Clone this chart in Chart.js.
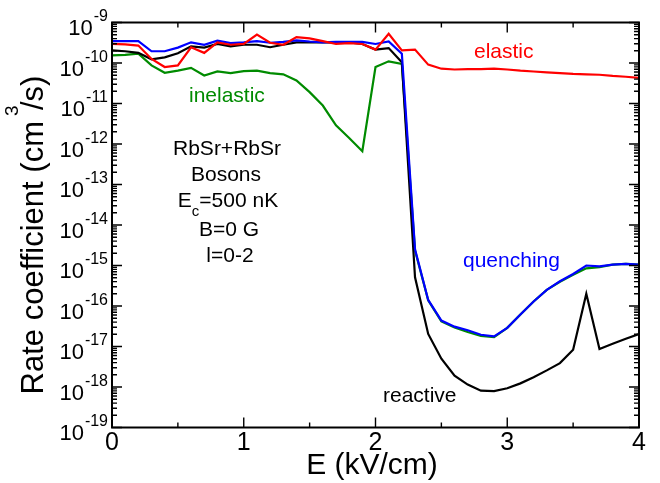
<!DOCTYPE html>
<html><head><meta charset="utf-8">
<script src="https://cdn.jsdelivr.net/npm/chart.js@4/dist/chart.umd.min.js"></script>
<style>html,body{margin:0;padding:0;background:#fff;overflow:hidden}canvas{display:block}</style>
</head><body>
<canvas id="c" width="660" height="483"></canvas>
<script>
// Electric field E (kV/cm)
const fieldE = [0.0,0.1,0.2,0.3,0.4,0.5,0.6,0.7,0.8,0.9,
                1.0,1.1,1.2,1.3,1.4,1.5,1.6,1.7,1.8,1.9,
                2.0,2.1,2.2,2.3,2.4,2.5,2.6,2.7,2.8,2.9,
                3.0,3.1,3.2,3.3,3.4,3.5,3.6,3.7,3.8,3.9,4.0];
// Rate coefficients (cm^3/s)
const elastic = [2.95e-10,2.88e-10,2.69e-10,1.26e-10,7.94e-11,8.71e-11,2.45e-10,1.78e-10,3.24e-10,2.82e-10,
                 2.95e-10,5.01e-10,3.16e-10,2.82e-10,4.37e-10,4.07e-10,3.47e-10,2.95e-10,3.09e-10,2.95e-10,
                 2.14e-10,5.25e-10,2.04e-10,2.14e-10,9.12e-11,7.24e-11,6.92e-11,7.08e-11,7.08e-11,7.24e-11,
                 6.92e-11,6.46e-11,6.17e-11,5.89e-11,5.62e-11,5.37e-11,5.25e-11,5.13e-11,4.79e-11,4.57e-11,4.27e-11];
const inelastic = [1.55e-10,1.58e-10,1.70e-10,8.71e-11,5.75e-11,6.46e-11,7.59e-11,4.90e-11,6.17e-11,5.62e-11,
                   6.31e-11,6.46e-11,5.62e-11,5.25e-11,3.72e-11,1.91e-11,8.91e-12,2.88e-12,1.41e-12,6.61e-13,
                   7.94e-11,1.10e-10,9.55e-11,2.34e-15,1.38e-16,4.17e-17,2.95e-17,2.29e-17,1.82e-17,1.70e-17,
                   2.88e-17,6.17e-17,1.29e-16,2.51e-16,3.98e-16,5.89e-16,8.51e-16,9.12e-16,1.05e-15,1.10e-15,1.05e-15];
const quenching = [3.47e-10,3.47e-10,3.47e-10,1.95e-10,1.95e-10,2.40e-10,3.24e-10,2.82e-10,3.55e-10,3.09e-10,
                   3.24e-10,3.47e-10,3.16e-10,3.31e-10,3.63e-10,3.39e-10,3.24e-10,3.31e-10,3.31e-10,3.31e-10,
                   2.95e-10,3.39e-10,1.70e-10,2.51e-15,1.41e-16,4.37e-17,3.09e-17,2.51e-17,1.95e-17,1.78e-17,
                   2.88e-17,6.17e-17,1.29e-16,2.51e-16,4.07e-16,6.17e-16,1.00e-15,9.55e-16,1.05e-15,1.10e-15,1.05e-15];
const reactive = [2.04e-10,1.95e-10,1.78e-10,1.23e-10,1.38e-10,1.74e-10,2.57e-10,2.40e-10,2.95e-10,2.57e-10,
                  2.82e-10,2.82e-10,2.45e-10,2.82e-10,3.24e-10,3.24e-10,3.24e-10,3.24e-10,3.24e-10,2.95e-10,
                  2.14e-10,2.34e-10,1.05e-10,5.13e-16,2.04e-17,5.01e-18,1.91e-18,1.15e-18,8.13e-19,7.94e-19,
                  9.33e-19,1.23e-18,1.74e-18,2.57e-18,3.89e-18,8.32e-18,2.00e-16,8.71e-18,1.17e-17,1.55e-17,2.04e-17];
// Axis ticks
const xTickLabels = [0,1,2,3,4];
const xMinorTicks = [0.5,1.5,2.5,3.5];
const yTickExponents = [-9,-10,-11,-12,-13,-14,-15,-16,-17,-18,-19];

const FONT = '"Liberation Sans", Arial, Helvetica, sans-serif';
const GREEN = '#008b00';

function pts(arr){ return fieldE.map((x,i)=>({x:x, y:arr[i]})); }

function textAt(ctx, s, x, y, size, color, align){
  ctx.font = size + 'px ' + FONT;
  ctx.fillStyle = color; ctx.textAlign = align || 'left'; ctx.textBaseline = 'alphabetic';
  ctx.fillText(s, x, y);
}

const deco = {
  id: 'deco',
  afterDraw(chart){
    const ctx = chart.ctx, xs = chart.scales.x, ys = chart.scales.y, a = chart.chartArea;
    ctx.save();
    // frame
    ctx.strokeStyle = '#000'; ctx.lineWidth = 2;
    ctx.strokeRect(a.left, a.top, a.right - a.left, a.bottom - a.top);
    // ticks (inward, all four sides)
    ctx.lineWidth = 1.4;
    ctx.beginPath();
    const xt = (v, len) => {
      const p = xs.getPixelForValue(v);
      ctx.moveTo(p, a.bottom); ctx.lineTo(p, a.bottom - len);
      ctx.moveTo(p, a.top); ctx.lineTo(p, a.top + len);
    };
    xTickLabels.forEach(v => xt(v, 10));
    xMinorTicks.forEach(v => xt(v, 5));
    const yt = (v, len) => {
      const p = ys.getPixelForValue(v);
      ctx.moveTo(a.left, p); ctx.lineTo(a.left + len, p);
      ctx.moveTo(a.right, p); ctx.lineTo(a.right - len, p);
    };
    yTickExponents.forEach(e => {
      yt(Math.pow(10, e), 10);
      if (e > -9) return;
      if (e < -9) {}
    });
    yTickExponents.forEach(e => {
      if (e === -9) return;
      for (let k = 2; k <= 9; k++) yt(k * Math.pow(10, e), 5);
    });
    ctx.stroke();

    // y tick labels 10^e
    yTickExponents.forEach(e => {
      const p = ys.getPixelForValue(Math.pow(10, e));
      const sup = String(e);
      ctx.font = '16px ' + FONT;
      const ws = ctx.measureText(sup).width;
      const supLeft = a.left - 4 - ws;
      textAt(ctx, sup, supLeft, p - 1.5, 16, '#000', 'left');
      textAt(ctx, '10', supLeft - 1, p + 12.5, 22, '#000', 'right');
    });
    // x tick labels
    xTickLabels.forEach(v => {
      textAt(ctx, String(v), xs.getPixelForValue(v), 450, 25, '#000', 'center');
    });
    // x title
    textAt(ctx, 'E (kV/cm)', 372, 474, 30, '#000', 'center');
    // y title with superscript
    ctx.save();
    ctx.translate(43, 235);
    ctx.rotate(-Math.PI / 2);
    ctx.font = '31px ' + FONT;
    const t1 = 'Rate coefficient (cm', t3 = '/s)';
    const w1 = ctx.measureText(t1).width, w3 = ctx.measureText(t3).width;
    const gap = 11, tot = w1 + gap + w3, x0 = -tot / 2;
    textAt(ctx, t1, x0, 0, 31, '#000', 'left');
    textAt(ctx, '3', x0 + w1 + 5, -25, 19, '#000', 'left');
    textAt(ctx, t3, x0 + w1 + gap, 0, 31, '#000', 'left');
    ctx.restore();

    // curve labels
    textAt(ctx, 'elastic', 474, 57.5, 21, '#ff0000', 'left');
    textAt(ctx, 'inelastic', 189, 102, 21, GREEN, 'left');
    textAt(ctx, 'quenching', 463, 267, 21, '#0000ff', 'left');
    textAt(ctx, 'reactive', 383, 402, 21, '#000', 'left');

    // info block
    textAt(ctx, 'RbSr+RbSr', 227, 155, 21, '#000', 'center');
    textAt(ctx, 'Bosons', 226, 180.5, 21, '#000', 'center');
    ctx.font = '21px ' + FONT;
    const wE = ctx.measureText('E').width, wR = ctx.measureText('=500 nK').width;
    ctx.font = '15px ' + FONT;
    const wc = ctx.measureText('c').width;
    const sx = 228 - (wE + wc + wR) / 2;
    textAt(ctx, 'E', sx, 206.5, 21, '#000', 'left');
    textAt(ctx, 'c', sx + wE, 216, 15, '#000', 'left');
    textAt(ctx, '=500 nK', sx + wE + wc, 206.5, 21, '#000', 'left');
    textAt(ctx, 'B=0 G', 229, 236, 21, '#000', 'center');
    textAt(ctx, 'l=0-2', 230, 261.5, 21, '#000', 'center');
    ctx.restore();
  }
};

const ds = (label, data, color, order) => ({
  label, data: pts(data), borderColor: color, backgroundColor: color,
  borderWidth: 2.2, pointRadius: 0, tension: 0, fill: false, order
});

new Chart(document.getElementById('c'), {
  type: 'line',
  data: { datasets: [
    ds('elastic', elastic, '#ff0000', 0),
    ds('quenching', quenching, '#0000ff', 1),
    ds('reactive', reactive, '#000000', 2),
    ds('inelastic', inelastic, GREEN, 3)
  ]},
  options: {
    responsive: false, animation: false, devicePixelRatio: 1,
    layout: { padding: { left: 112, right: 21, top: 22.5, bottom: 55.5 } },
    plugins: { legend: { display: false }, tooltip: { enabled: false } },
    scales: {
      x: { type: 'linear', min: 0, max: 4, display: false },
      y: { type: 'logarithmic', min: 1e-19, max: 1e-9, display: false }
    }
  },
  plugins: [deco]
});
</script>
</body></html>
